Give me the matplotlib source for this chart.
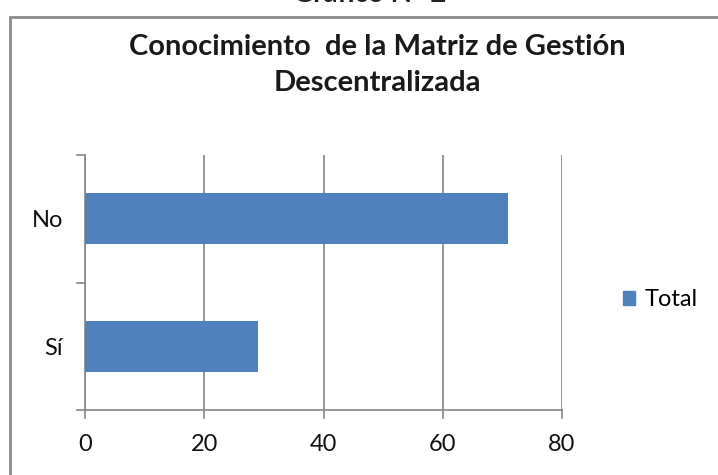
import matplotlib
matplotlib.use("Agg")
import matplotlib.pyplot as plt
from matplotlib.patches import Rectangle, Patch

categories = ["Sí", "No"]
values = [29, 71]
xticks = [0, 20, 40, 60, 80]
title = "Conocimiento  de la Matriz de Gestión\nDescentralizada"
legend_label = "Total"
header = "Gráfico N° 2"

W, H = 718, 475
fig = plt.figure(figsize=(W / 100, H / 100), dpi=100)
plt.rcParams['font.family'] = ['Lato', 'DejaVu Sans']

grey = "#868686"
bar_color = "#4F81BD"

# chart border
fig.patches.append(Rectangle((10 / W, -0.1), 1.2, 1 - 17 / H + 0.1,
                             transform=fig.transFigure, fill=False,
                             edgecolor="#8c8c8c", linewidth=2))

# header text partially cut off at the top edge
fig.text(370 / W, 1 - 2 / H, header, ha='center', va='baseline',
         fontsize=20, fontweight='bold', color='#222222')

ax = fig.add_axes([85 / W, 1 - 410 / H, (562 - 85) / W, (410 - 155) / H])
ypos = list(range(len(categories)))
ax.barh(ypos, values, height=0.4, color=bar_color, label=legend_label, zorder=3)
ax.set_xlim(0, 80)
ax.set_ylim(-0.5, len(categories) - 0.5)
ax.set_xticks(xticks)
ax.set_xticklabels([str(t) for t in xticks], fontsize=17, color='#111111')
ax.set_yticks(ypos)
ax.set_yticklabels(categories, fontsize=17, color='#111111')
ax.tick_params(axis='y', length=0, pad=16)
ax.tick_params(axis='x', length=0, pad=17)
for yb in [-0.5, 0.5, 1.5]:
    ax.plot([-1.3, 0], [yb, yb], color=grey, lw=1.2, clip_on=False, zorder=4)
for xt in xticks:
    ax.plot([xt, xt], [-0.5, -0.5 - 0.065], color=grey, lw=1.2, clip_on=False, zorder=4)
ax.grid(axis='x', color=grey, linewidth=1.2, zorder=0)
for s in ['top', 'right']:
    ax.spines[s].set_visible(False)
for s in ['left', 'bottom']:
    ax.spines[s].set_color(grey)
    ax.spines[s].set_linewidth(1.2)

fig.text(377 / W, 1 - 65 / H, title, ha='center', va='center',
         fontsize=21, fontweight='bold', linespacing=1.45, color='#1a1a1a')

fig.legend(handles=[Patch(color=bar_color, label=legend_label)],
           loc='center left', bbox_to_anchor=(602 / W, 1 - 300 / H),
           frameon=False, fontsize=17, handlelength=0.5, handleheight=0.5,
           handletextpad=0.4)

fig.savefig("out.png", dpi=100)
